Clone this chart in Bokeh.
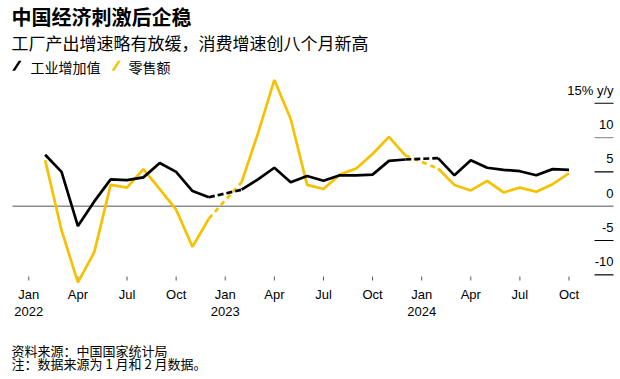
import math
from bokeh.plotting import figure
from bokeh.models import ColumnDataSource, Range1d, Label, PolyAnnotation
from bokeh.core.properties import value
from bokeh.embed import file_html
from bokeh.resources import INLINE

nan = float("nan")

# Months Jan 2022 .. Oct 2024 (Jan values are combined into Feb)
months = [f"{y}-{m:02d}" for y in (2022, 2023, 2024) for m in range(1, 13)][:34]

industrial = [nan, 7.5, 5.0, -2.9, 0.7, 3.9, 3.8, 4.2, 6.3, 5.0, 2.2, 1.3,
              nan, 2.4, 3.9, 5.6, 3.5, 4.4, 3.7, 4.5, 4.5, 4.6, 6.6, 6.8,
              nan, 7.0, 4.5, 6.7, 5.6, 5.3, 5.1, 4.5, 5.4, 5.3]
retail = [nan, 6.7, -3.5, -11.1, -6.7, 3.1, 2.7, 5.4, 2.5, -0.5, -5.9, -1.8,
          nan, 3.5, 10.6, 18.4, 12.7, 3.1, 2.5, 4.6, 5.5, 7.6, 10.1, 7.4,
          nan, 5.5, 3.1, 2.3, 3.7, 2.0, 2.7, 2.1, 3.2, 4.8]

x_tick_index = [0, 3, 6, 9, 12, 15, 18, 21, 24, 27, 30, 33]
x_tick_labels = ["Jan", "Apr", "Jul", "Oct", "Jan", "Apr", "Jul", "Oct", "Jan", "Apr", "Jul", "Oct"]
year_index = [0, 12, 24]
year_labels = ["2022", "2023", "2024"]
y_ticks = [15, 10, 5, 0, -5, -10]
y_tick_labels = ["15% y/y", "10", "5", "0", "-5", "-10"]

series_names = ["工业增加值", "零售额"]
title_text = "中国经济刺激后企稳"
subtitle_text = "工厂产出增速略有放缓，消费增速创八个月新高"
source_text = "资料来源：中国国家统计局"
note_text = "注：数据来源为 1 月和 2 月数据。"

BLACK = "#000000"
YELLOW = "#F5C100"
CJK = "Noto Sans CJK SC"
LAT = "Liberation Sans"

W, H = 620, 379
# page-pixel layout: month i at x = X0 + DX*i ; value v at y = Y0 - DY*v
X0, DX = 28.3, 16.37
Y0, DY = 205.7, 6.864

def xd(px):
    return (px - X0) / DX

def yd(py):
    return (Y0 - py) / DY

idx = list(range(len(months)))

p = figure(width=W, height=H, output_backend="svg", toolbar_location=None,
           x_range=Range1d(xd(0), xd(W)), y_range=Range1d(yd(H), yd(0)),
           x_axis_location=None, y_axis_location=None,
           min_border_left=0, min_border_right=0, min_border_top=0, min_border_bottom=0)
p.outline_line_color = None
p.grid.visible = False
p.background_fill_color = "white"
p.border_fill_color = "white"

# zero line
p.segment(x0=[xd(12)], x1=[xd(613)], y0=[0], y1=[0], line_color="#8c8c8c", line_width=1.5)

# right-side tick marks and labels
tick_y = [t for t in y_ticks if t != 0]
tick_col = ["#999999" if t == 10 else BLACK for t in tick_y]
p.segment(x0=[xd(594)] * len(tick_y), x1=[xd(613)] * len(tick_y),
          y0=tick_y, y1=tick_y, line_color=tick_col, line_width=1.2)
p.text(x=[xd(613)] * len(y_ticks), y=y_ticks, text=y_tick_labels, y_offset=-13,
       text_align="right", text_baseline="middle", text_font=value(LAT),
       text_font_size="13px", text_color=BLACK)

# bottom ticks and labels
base = yd(276)
p.segment(x0=x_tick_index, x1=x_tick_index, y0=[base] * len(x_tick_index),
          y1=[yd(280)] * len(x_tick_index), line_color="#555555", line_width=1)
p.text(x=x_tick_index, y=[base] * len(x_tick_index), text=x_tick_labels, y_offset=18,
       text_align="center", text_baseline="middle", text_font=value(LAT),
       text_font_size="13px", text_color=BLACK)
p.text(x=year_index, y=[base] * len(year_index), text=year_labels, y_offset=35,
       text_align="center", text_baseline="middle", text_font=value(LAT),
       text_font_size="13px", text_color=BLACK)

def draw(vals, color, dash):
    src = ColumnDataSource(dict(x=idx, y=vals))
    p.line("x", "y", source=src, line_color=color, line_width=2.7)
    x0, y0, x1, y1 = [], [], [], []
    for j, v in enumerate(vals):
        if math.isnan(v) and 0 < j < len(vals) - 1:
            x0.append(j - 1); y0.append(vals[j - 1]); x1.append(j + 1); y1.append(vals[j + 1])
    p.segment(x0=x0, y0=y0, x1=x1, y1=y1, line_color=color, line_width=2.7, line_dash=dash)

draw(retail, YELLOW, "5 4")
draw(industrial, BLACK, "6 3")

# texts (screen units: from the frame's bottom-left, which is the page's bottom-left)
def label(txt, px, py, size, bold=False, font=CJK, color=BLACK):
    p.add_layout(Label(x=px, y=H - py, x_units="screen", y_units="screen", text=txt,
                       text_font=font, text_font_size=size,
                       text_font_style="bold" if bold else "normal",
                       text_color=color, text_baseline="middle", text_align="left"))

label(title_text, 11, 16, "20px", bold=True)
label(subtitle_text, 11, 42, "17px")
label(series_names[0], 30, 66, "14px")
label(series_names[1], 128, 66, "14px")
label(source_text, 11, 350, "13px")
label(note_text, 11, 363, "13px")

def slash(px0, color):
    pts = [(px0, 70.3), (px0 + 2.8, 70.3), (px0 + 9.3, 60.3), (px0 + 6.5, 60.3)]
    p.add_layout(PolyAnnotation(xs=[a for a, b in pts], ys=[H - b for a, b in pts],
                                xs_units="screen", ys_units="screen",
                                fill_color=color, fill_alpha=1, line_color=None))

slash(11.7, BLACK)
slash(111, YELLOW)

open("out.html", "w").write(file_html(p, INLINE))
